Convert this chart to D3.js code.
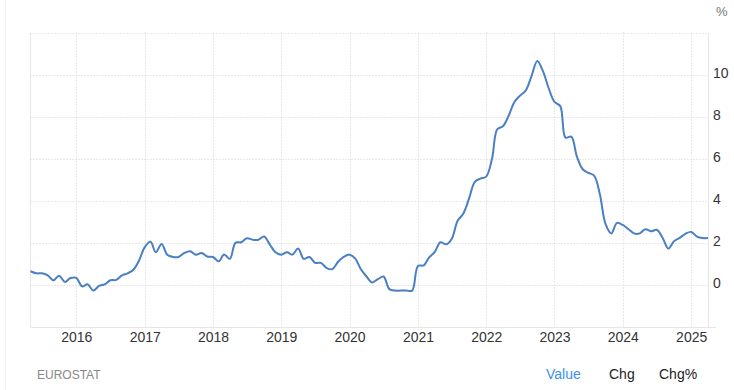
<!DOCTYPE html>
<html>
<head>
<meta charset="utf-8">
<script src="https://cdn.jsdelivr.net/npm/d3@7"></script>
<style>
  body { margin: 0; background: #fff; }
  svg { display: block; font-family: "Liberation Sans", Arial, sans-serif; }
</style>
</head>
<body>
<div id="chart"></div>
<script>
// monthly values, May 2015 .. Apr 2025
const startMonth = new Date(2015, 4, 1);
const values = [
  0.65, 0.55, 0.55, 0.45, 0.22, 0.44, 0.14, 0.33,
  0.33, -0.07, 0.03, -0.27, -0.05, 0.03, 0.22, 0.24, 0.45, 0.55, 0.72, 1.15,
  1.8, 2.05, 1.55, 1.95, 1.44, 1.33, 1.33, 1.52, 1.6, 1.44, 1.52, 1.35,
  1.33, 1.12, 1.45, 1.24, 2.0, 2.03, 2.22, 2.15, 2.15, 2.3, 1.92, 1.55,
  1.44, 1.55, 1.44, 1.73, 1.24, 1.33, 1.05, 1.05, 0.8, 0.75, 1.1, 1.33,
  1.44, 1.25, 0.76, 0.4, 0.12, 0.28, 0.4, -0.2, -0.27, -0.27, -0.27, -0.27,
  0.9, 0.93, 1.3, 1.57, 2.03, 1.93, 2.2, 3.05, 3.4, 4.1, 4.9, 5.05,
  5.15, 6.0, 7.4, 7.55, 8.05, 8.7, 9.0, 9.25, 9.95, 10.65, 10.15, 9.35,
  8.7, 8.5, 7.0, 7.05, 6.1, 5.5, 5.33, 5.2, 4.3, 2.9, 2.45, 2.95,
  2.85, 2.65, 2.45, 2.45, 2.65, 2.55, 2.62, 2.24, 1.73, 2.08, 2.24, 2.43,
  2.52, 2.3, 2.23, 2.23
];
const yearTicks = [2016, 2017, 2018, 2019, 2020, 2021, 2022, 2023, 2024, 2025];
const yTicks = [0, 2, 4, 6, 8, 10];
const yGrid = [0, 2, 4, 6, 8, 10, 12];

const W = 734, H = 390;
const plot = { left: 30.5, right: 708, top: 32.5, bottom: 327 };

const data = values.map((v, i) => ({ date: d3.timeMonth.offset(startMonth, i), value: v }));

const svg = d3.select("#chart")
              .append("svg")
              .attr("width", W)
              .attr("height", H);

// faint container edge
svg.append("line")
   .attr("x1", 5.5).attr("x2", 5.5)
   .attr("y1", 0).attr("y2", H)
   .attr("stroke", "#f3f3f3");

const x = d3.scaleTime()
            .domain([data[0].date, data[data.length - 1].date])
            .range([plot.left, plot.right]);

const y = d3.scaleLinear()
            .domain([-2, 12])
            .range([plot.bottom, plot.top]);

// vertical grid
svg.append("g")
   .selectAll("line")
   .data(yearTicks)
   .join("line")
   .attr("x1", d => Math.round(x(new Date(d, 0, 1))) + 0.5)
   .attr("x2", d => Math.round(x(new Date(d, 0, 1))) + 0.5)
   .attr("y1", plot.top)
   .attr("y2", plot.bottom)
   .attr("stroke", "#d2d2d2")
   .attr("stroke-dasharray", "1,2");

// horizontal grid
svg.append("g")
   .selectAll("line")
   .data(yGrid)
   .join("line")
   .attr("x1", plot.left)
   .attr("x2", plot.right)
   .attr("y1", d => Math.round(y(d)) + 0.5)
   .attr("y2", d => Math.round(y(d)) + 0.5)
   .attr("stroke", "#d2d2d2")
   .attr("stroke-dasharray", "1,2");

// frame lines
svg.append("line")
   .attr("x1", plot.left).attr("x2", plot.left)
   .attr("y1", plot.top).attr("y2", plot.bottom)
   .attr("stroke", "#e6e6e6");
svg.append("line")
   .attr("x1", plot.right + 0.5).attr("x2", plot.right + 0.5)
   .attr("y1", plot.top).attr("y2", plot.bottom)
   .attr("stroke", "#e6e6e6");
svg.append("line")
   .attr("x1", plot.left).attr("x2", 716)
   .attr("y1", plot.bottom + 0.5).attr("y2", plot.bottom + 0.5)
   .attr("stroke", "#e6e6e6");

// x axis labels
const xAxis = d3.axisBottom(x)
                .tickValues(yearTicks.map(d => new Date(d, 0, 1)))
                .tickFormat(d3.timeFormat("%Y"))
                .tickSize(0)
                .tickPadding(5);

const gx = svg.append("g")
              .attr("transform", `translate(0, ${plot.bottom})`)
              .call(xAxis);
gx.select(".domain").remove();
gx.selectAll("text")
  .attr("font-size", "14px")
  .attr("font-family", "Liberation Sans, Arial, sans-serif")
  .attr("fill", "#333");

// y axis labels
const yAxis = d3.axisRight(y)
                .tickValues(yTicks)
                .tickFormat(d3.format("d"))
                .tickSize(0)
                .tickPadding(5);

const gy = svg.append("g")
              .attr("transform", `translate(${plot.right}, 0)`)
              .call(yAxis);
gy.select(".domain").remove();
gy.selectAll("text")
  .attr("dy", "0.2em")
  .attr("font-size", "14px")
  .attr("font-family", "Liberation Sans, Arial, sans-serif")
  .attr("fill", "#333");

svg.append("text")
   .attr("x", 716)
   .attr("y", 16)
   .attr("font-size", "13px")
   .attr("fill", "#777")
   .text("%");

// series line
const line = d3.line()
               .x(d => x(d.date))
               .y(d => y(d.value))
               .curve(d3.curveCatmullRom.alpha(0.5));

svg.append("path")
   .datum(data)
   .attr("fill", "none")
   .attr("stroke", "#4a7fc1")
   .attr("stroke-width", 2)
   .attr("stroke-linejoin", "round")
   .attr("d", line);

// footer
svg.append("text")
   .attr("x", 37)
   .attr("y", 379)
   .attr("font-size", "12px")
   .attr("fill", "#888")
   .text("EUROSTAT");

const buttons = [
  { label: "Value", x: 546, color: "#3a92ec" },
  { label: "Chg", x: 609, color: "#222" },
  { label: "Chg%", x: 659, color: "#222" }
];

svg.append("g")
   .selectAll("text")
   .data(buttons)
   .join("text")
   .attr("x", d => d.x)
   .attr("y", 379)
   .attr("font-size", "14px")
   .attr("fill", d => d.color)
   .text(d => d.label);
</script>
</body>
</html>
